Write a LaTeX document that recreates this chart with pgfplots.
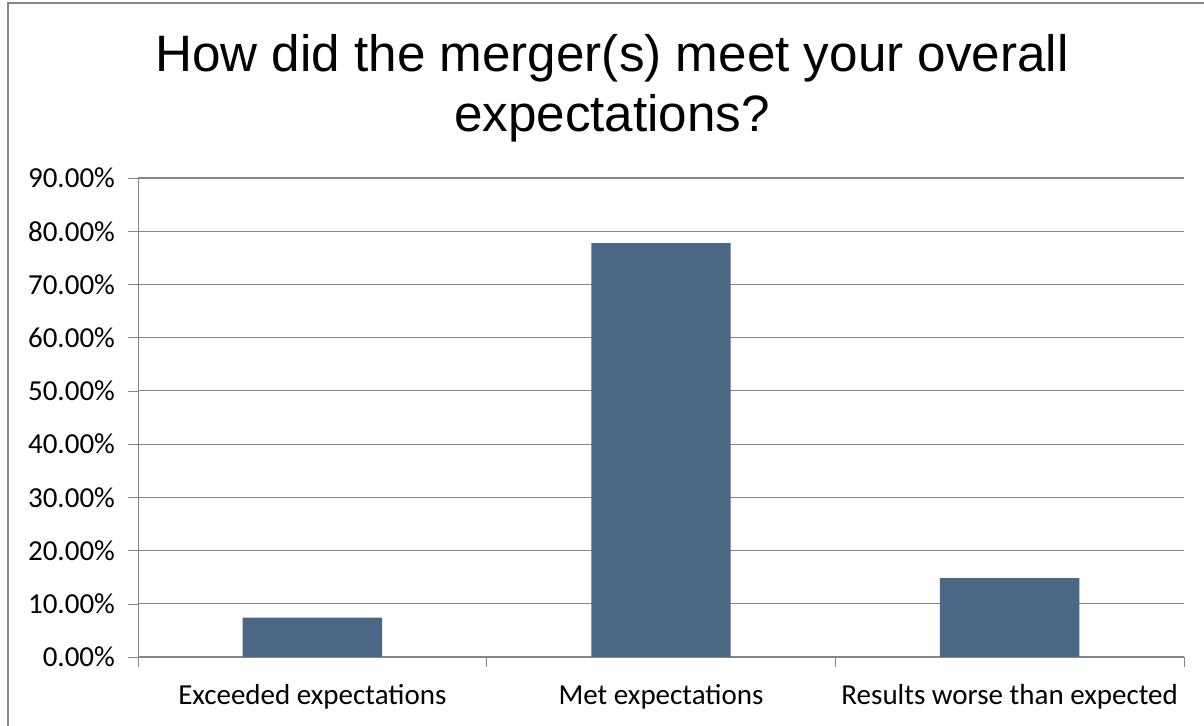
\documentclass[border=0pt]{standalone}
\usepackage{pgfplots}
\pgfplotsset{compat=1.18}
\usepackage{fontspec}
\setmainfont{Carlito}
\newfontfamily\titlefont{Liberation Sans}
\definecolor{barblue}{HTML}{4A6785}
\definecolor{gridgray}{HTML}{868686}

\begin{document}
\begin{tikzpicture}
\useasboundingbox (-69pt,-34.5pt) rectangle (533pt,328.5pt);
\draw[gridgray,line width=1pt] (-65pt,-40pt) -- (-65pt,327pt) -- (540pt,327pt);
\node[align=center,font={\titlefont\fontsize{25.6}{30}\selectfont},anchor=base]
  at (237pt,262.5pt) {How did the merger(s) meet your overall\\expectations?};
\begin{axis}[
    at={(0,0)}, anchor=south west,
    scale only axis,
    width=523pt, height=239.5pt,
    xmin=-0.5, xmax=2.5,
    ymin=0, ymax=90,
    axis lines*=left,
    axis line style={gridgray,-},
    tick align=outside,
    xtick={0,1,2},
    xticklabels={Exceeded expectations,Met expectations,Results worse than expected},
    major x tick style={draw=none},
    minor xtick={-0.5,0.5,1.5,2.5},
    minor tick length=5pt,
    minor x tick style={gridgray},
    ytick={0,10,...,90},
    major tick length=5pt,
    major y tick style={gridgray},
    ymajorgrids,
    grid style={gridgray,line width=0.6pt},
    yticklabel={\pgfmathprintnumber[fixed,fixed zerofill,precision=2]{\tick}\%},
    /pgf/number format/assume math mode=true,
    ticklabel style={font=\fontsize{14.5}{17}\selectfont},
    yticklabel style={xshift=-3pt},
    xticklabel style={yshift=-5pt},
    ]
    \addplot[ybar, bar width=0.4, fill=barblue, draw=none] coordinates {
        (0,7.41) (1,77.78) (2,14.81)
    };
\end{axis}
\end{tikzpicture}
\end{document}
